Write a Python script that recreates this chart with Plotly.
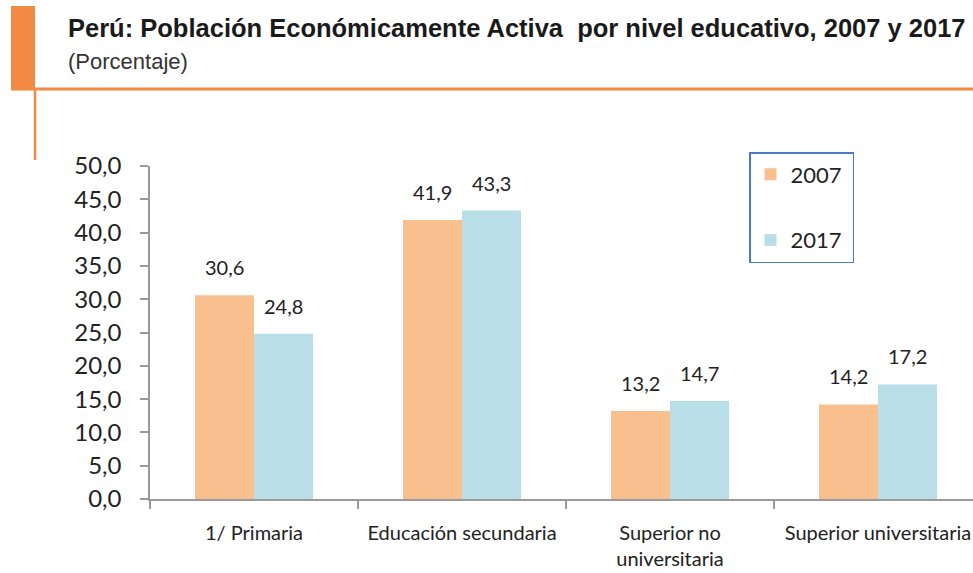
import plotly.graph_objects as go

categories = ["1/ Primaria", "Educación secundaria", "Superior no<br>universitaria", "Superior universitaria"]
values_2007 = [30.6, 41.9, 13.2, 14.2]
values_2017 = [24.8, 43.3, 14.7, 17.2]
years = ["2007", "2017"]
y_ticks = [0, 5, 10, 15, 20, 25, 30, 35, 40, 45, 50]

W, H = 973, 573
# plot area in window pixels: x 150..973, y 166..499
L, R, T, B = 150, 0, 166, 573 - 499
PW, PH = W - L - R, H - T - B

def px(x):
    return (x - L) / PW

def py(y):
    return (H - B - y) / PH

c2007 = "#F9BF8F"
c2017 = "#B8DEE8"
orange = "#F28A43"
lab_font = "Lato"

fig = go.Figure()
for name, vals, col in [(years[0], values_2007, c2007), (years[1], values_2017, c2017)]:
    fig.add_trace(go.Bar(name=name + "\u00a0", x=categories, y=vals,
                         marker=dict(color=col, line=dict(width=0)), legendgroup=name))

def fmt(v):
    return f"{v:.1f}".replace(".", ",")

annotations = []
for vals, shift in [(values_2007, -29.5), (values_2017, 29.5)]:
    for c, v in zip(categories, vals):
        annotations.append(dict(x=c, y=v, xref="x", yref="y", text=fmt(v), showarrow=False,
                                xshift=shift, yshift=28, yanchor="middle",
                                font=dict(family=lab_font, size=20, color="#222222")))

annotations.append(dict(x=px(66), y=py(28), xref="paper", yref="paper", xanchor="left", yanchor="middle",
                        text="<b>Perú: Población Económicamente Activa  por nivel educativo, 2007 y 2017</b>",
                        showarrow=False, font=dict(family="Liberation Sans", size=25.5, color="#1a1a1a")))
annotations.append(dict(x=px(66), y=py(62), xref="paper", yref="paper", xanchor="left", yanchor="middle",
                        text="(Porcentaje)", showarrow=False,
                        font=dict(family="Liberation Sans", size=22, color="#333333")))

shapes = [
    dict(type="rect", xref="paper", yref="paper", x0=px(11), x1=px(35), y0=py(6), y1=py(90),
         fillcolor=orange, line=dict(width=0), layer="above"),
    dict(type="line", xref="paper", yref="paper", x0=px(11), x1=px(973), y0=py(89), y1=py(89),
         line=dict(color=orange, width=3)),
    dict(type="line", xref="paper", yref="paper", x0=px(35), x1=px(35), y0=py(89), y1=py(160),
         line=dict(color=orange, width=2.5)),
]

fig.update_layout(
    width=W, height=H,
    margin=dict(l=L, r=R, t=T, b=B, autoexpand=False),
    paper_bgcolor="white", plot_bgcolor="white",
    separators=",.",
    barmode="group", bargap=0.433, bargroupgap=0,
    annotations=annotations, shapes=shapes,
    showlegend=True,
    legend=dict(x=px(749), y=py(152), xanchor="left", yanchor="top",
                bordercolor="#4A7BC8", borderwidth=1.5, bgcolor="white",
                font=dict(family=lab_font, size=22, color="#222222"),
                tracegroupgap=34, itemwidth=30),
    xaxis=dict(range=[-0.5, -0.5 + PW / 208], showline=True, linecolor="#999999", linewidth=1.5,
               ticks="outside", tickson="boundaries", ticklen=8, tickcolor="#999999", tickwidth=1.5,
               ticklabelstandoff=15,
               tickfont=dict(family=lab_font, size=20, color="#222222"), showgrid=False, fixedrange=True),
    yaxis=dict(range=[0, 50], tickvals=y_ticks, tickformat=".1f", showline=True, linecolor="#999999",
               linewidth=1.5, ticks="outside", ticklen=8, tickcolor="#999999", tickwidth=1.5,
               ticklabelstandoff=14,
               tickfont=dict(family=lab_font, size=24, color="#222222"), showgrid=False, zeroline=False,
               fixedrange=True),
)

fig.write_html("out.html", config={"displayModeBar": False},
               post_script="document.body.style.margin='0';document.body.style.overflow='hidden';")
